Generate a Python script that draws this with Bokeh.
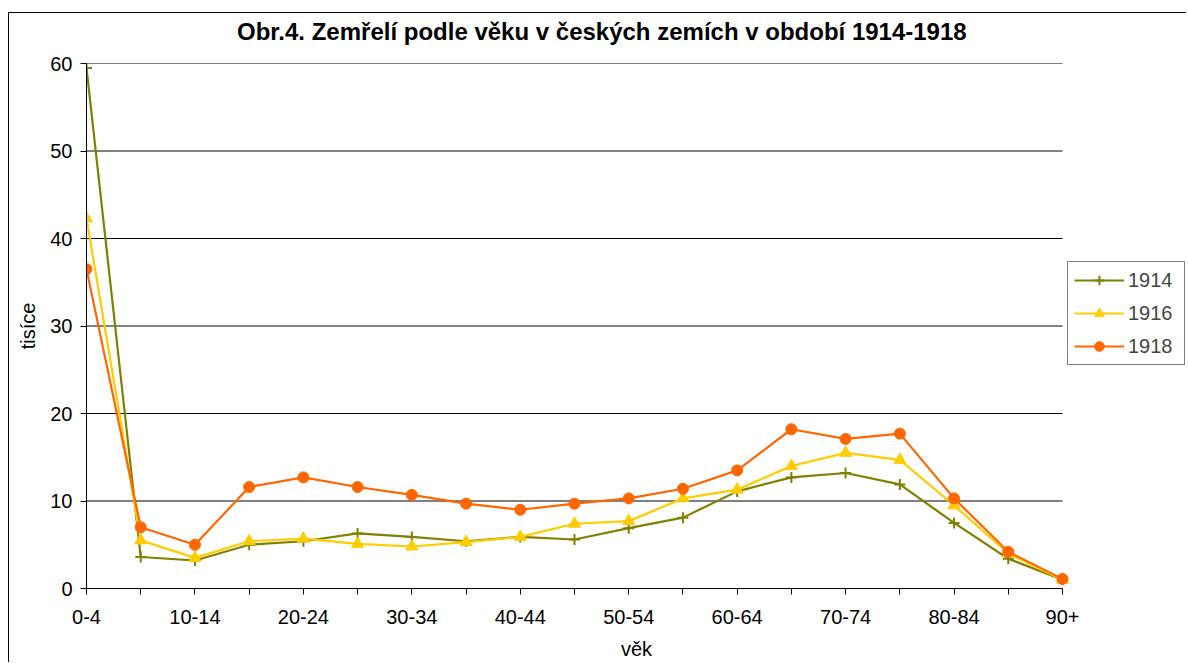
from bokeh.plotting import figure
from bokeh.layouts import column
from bokeh.models import FixedTicker, Legend, LegendItem, Range1d, Div
from bokeh.embed import file_html
from bokeh.resources import INLINE

title_text = "Obr.4. Zemřelí podle věku v českých zemích v období 1914-1918"
categories = ["0-4", "5-9", "10-14", "15-19", "20-24", "25-29", "30-34", "35-39",
              "40-44", "45-49", "50-54", "55-59", "60-64", "65-69", "70-74", "75-79",
              "80-84", "85-89", "90+"]
y1914 = [59.5, 3.6, 3.2, 5.0, 5.4, 6.3, 5.9, 5.4, 5.9, 5.6, 6.9, 8.1, 11.1, 12.7, 13.2, 11.9, 7.5, 3.4, 1.0]
y1916 = [42.3, 5.5, 3.5, 5.4, 5.7, 5.1, 4.8, 5.3, 5.9, 7.4, 7.7, 10.3, 11.3, 14.0, 15.5, 14.7, 9.5, 4.0, 1.0]
y1918 = [36.5, 7.0, 5.0, 11.6, 12.7, 11.6, 10.7, 9.7, 9.0, 9.7, 10.3, 11.4, 13.5, 18.2, 17.1, 17.7, 10.3, 4.2, 1.1]
series_names = ["1914", "1916", "1918"]
y_ticks = [0, 10, 20, 30, 40, 50, 60]

x = list(range(len(categories)))
n = len(categories)
FONT = "Liberation Sans"

# layout (pixels)
W = 1177
TITLE_H = 38
H = 649 - TITLE_H
BL, BT, BB = 77, 12, 73
PLOT_W = 976                      # width of the drawn data area
FRAME_W = W - BL                  # frame extends under the legend
x_end = (n - 1) * FRAME_W / PLOT_W

title = Div(text=title_text, width=W, height=TITLE_H, margin=0,
            styles={"font-family": "'Liberation Sans'", "font-size": "24px",
                    "font-weight": "bold", "color": "black", "line-height": "38px",
                    "padding-left": "228px", "white-space": "nowrap",
                    "box-sizing": "border-box"})

p = figure(width=W, height=H, output_backend="svg", toolbar_location=None,
           x_range=Range1d(0, x_end), y_range=Range1d(0, 60),
           min_border_left=BL, min_border_right=0, min_border_top=BT, min_border_bottom=BB)
p.margin = 0

p.outline_line_color = None
p.background_fill_color = "white"
p.border_fill_color = "white"

p.xgrid.grid_line_color = None
p.ygrid.grid_line_color = None
p.segment(x0=[0] * (len(y_ticks) - 1), x1=[n - 1] * (len(y_ticks) - 1),
          y0=y_ticks[1:], y1=y_ticks[1:], line_color="black", line_width=1)

for ax in (p.xaxis[0], p.yaxis[0]):
    ax.axis_line_color = "black"
    ax.major_tick_line_color = "black"
    ax.major_tick_in = 0
    ax.major_tick_out = 6
    ax.minor_tick_line_color = None
    ax.major_label_text_font = FONT
    ax.major_label_text_font_size = "20px"
    ax.major_label_text_color = "black"
    ax.axis_label_text_font = FONT
    ax.axis_label_text_font_size = "20px"
    ax.axis_label_text_font_style = "normal"
    ax.axis_label_text_color = "black"

p.xaxis.bounds = (0, n - 1)
p.xaxis.ticker = FixedTicker(ticks=x)
p.xaxis.major_label_overrides = {i: (c if i % 2 == 0 else "") for i, c in enumerate(categories)}
p.xaxis.axis_label = "věk"
p.xaxis.major_label_standoff = 15
p.xaxis.axis_label_standoff = 11
p.yaxis.ticker = FixedTicker(ticks=y_ticks)
p.yaxis.axis_label = "tisíce"
p.yaxis.major_label_standoff = 8
p.yaxis.axis_label_standoff = 8

c1 = "#808000"
c2 = "#FFCC00"
c3 = "#FF6600"

l1 = p.line(x, y1914, line_color=c1, line_width=2.2)
m1 = p.scatter(x, y1914, marker="cross", size=11, line_color=c1, line_width=2)
l2 = p.line(x, y1916, line_color=c2, line_width=2.2)
m2 = p.scatter(x, y1916, marker="triangle", size=12, fill_color=c2, line_color=c2)
l3 = p.line(x, y1918, line_color=c3, line_width=2.2)
m3 = p.scatter(x, y1918, marker="circle", size=11, fill_color=c3, line_color=c3)

legend = Legend(items=[LegendItem(label=series_names[0], renderers=[l1, m1]),
                       LegendItem(label=series_names[1], renderers=[l2, m2]),
                       LegendItem(label=series_names[2], renderers=[l3, m3])],
                location=(PLOT_W + 5, 223))
legend.margin = 0
legend.padding = 6
legend.spacing = 9
legend.border_line_color = "black"
legend.border_line_width = 1
legend.label_text_font = FONT
legend.label_text_font_size = "20px"
legend.glyph_width = 50
legend.glyph_height = 24
legend.label_standoff = 4
legend.label_width = 50
legend.background_fill_color = "white"
p.add_layout(legend)

layout = column(title, p, spacing=0,
                styles={"border-left": "1px solid black", "border-top": "1px solid black",
                        "margin-left": "8px", "margin-top": "12px"})

open("out.html", "w").write(file_html(layout, INLINE))
